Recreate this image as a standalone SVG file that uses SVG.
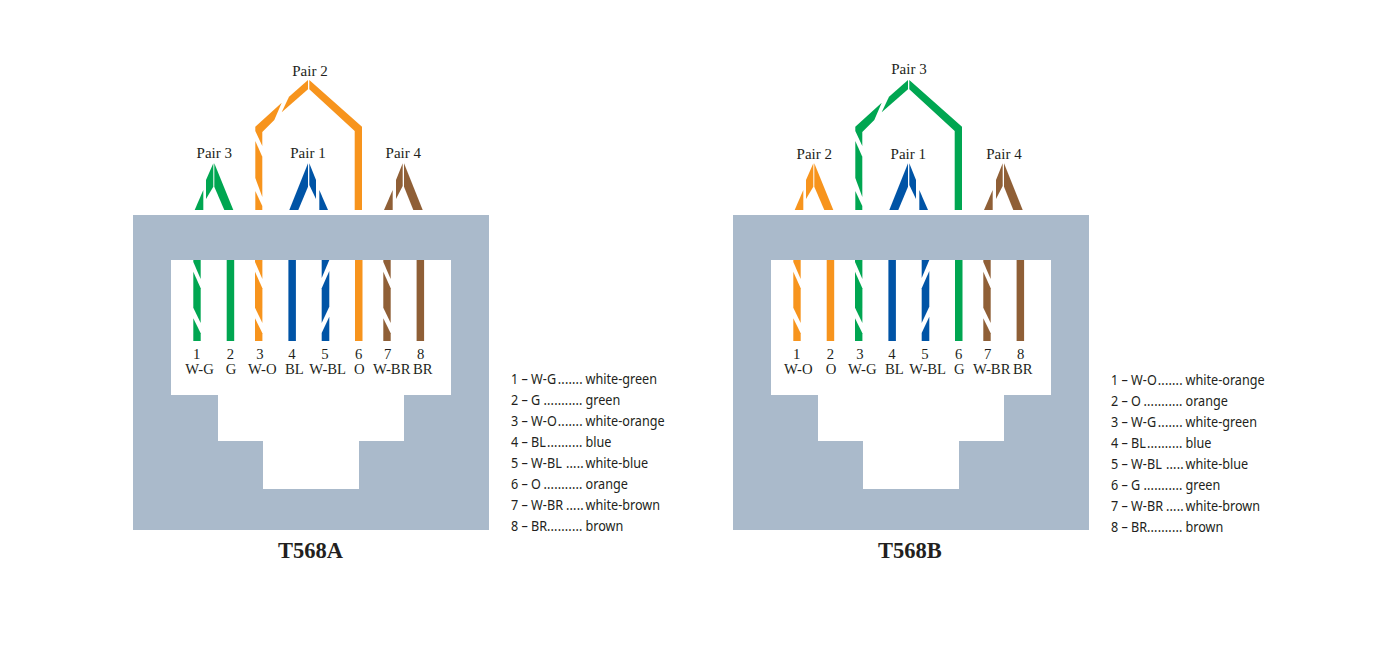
<svg xmlns="http://www.w3.org/2000/svg" width="1394" height="647" viewBox="0 0 1394 647">
<style>
.jack{fill:#aabacb}
.g{fill:#00a651}.o{fill:#f7941d}.b{fill:#0054a6}.n{fill:#8f5f36}
text{font-family:"Liberation Serif","Times New Roman",serif;fill:#231f20;font-size:14.7px;text-anchor:middle}
.pair{font-size:15px}
.title{font-size:22.5px;font-weight:bold}
.leg{font-family:"Noto Sans","Open Sans",sans-serif;font-size:14.2px;text-anchor:start}
.d{letter-spacing:.2px}
</style>
<defs>
<path id="jack" d="M133 215H489V530H133ZM171 260V395H218V441H263V489H359V441H404V395H451V260Z" fill-rule="evenodd"/>
<g id="tw"><polygon points="0,260 7.4,260 7.4,279 0,262"/><polygon points="0,271.7 7.4,288.3 7.4,323 0,307.7"/><polygon points="0,318.3 7.4,333.3 7.4,341 0,341"/></g>
<g id="tw2"><polygon points="0,260 7.6,260 0,278"/><polygon points="7.6,271 7.6,306.7 0,323 0,288.3"/><polygon points="7.6,316.7 7.6,341 0,341 0,333"/></g>
<rect id="so" x="0" y="260" width="7.5" height="81"/>
<g id="left"><polygon points="194.7,210 203.3,210 203.3,190"/><polygon points="206,199 206,180 213.3,163.3 213.3,186.7"/><polygon points="214.3,163.3 233.3,210 224.3,210 214.3,186.7"/></g>
<g id="mid"><polygon points="289.3,210 298.3,210 308,186.7 308,163.3"/><polygon points="309.3,163.3 316,180 316,199 309.3,185"/><polygon points="319.3,190 328,210 319.3,210"/></g>
<g id="right"><polygon points="384,210 392.7,210 392.7,190"/><polygon points="396,199 396,180 402.7,163.3 402.7,186"/><polygon points="404,163.3 422.7,210 413.3,210 404,186.7"/></g>
<g id="arch"><polygon points="309.3,80 362,126.7 362,210 354.7,210 354.7,131 309.3,89.3"/><polygon points="308,80 308,89.3 281.7,112.3 289,96.7"/><polygon points="281.7,102.7 255.3,126.7 255.3,131 262.3,146 262.3,132 274.3,120"/><polygon points="255.3,141 262.3,156.7 262.3,197 255.3,178"/><polygon points="255.3,191 262.3,206 262.3,210 255.3,210"/></g>
</defs>

<g id="t568a">
<use href="#jack" class="jack"/>
<g id="t568a-wires">
<use href="#left" class="g"/><use href="#mid" class="b"/><use href="#right" class="n"/><use href="#arch" class="o"/>
<use href="#tw" x="193.3" class="g"/><use href="#so" x="226.7" class="g"/><use href="#tw" x="255" class="o"/><use href="#so" x="288.4" class="b"/><use href="#tw2" x="321.7" class="b"/><use href="#so" x="355" class="o"/><use href="#tw" x="383.3" class="n"/><use href="#so" x="416.6" class="n"/>
</g>
<g id="t568a-labels">
<text class="pair" x="310" y="76">Pair 2</text><text class="pair" x="214.3" y="158">Pair 3</text><text class="pair" x="308" y="158">Pair 1</text><text class="pair" x="403.3" y="158">Pair 4</text>
<text x="196.7" y="359">1</text><text x="230.3" y="359">2</text><text x="260" y="359">3</text><text x="292" y="359">4</text><text x="325" y="359">5</text><text x="358.7" y="359">6</text><text x="387.7" y="359">7</text><text x="420.7" y="359">8</text>
<text x="199.5" y="374">W-G</text><text x="231" y="374">G</text><text x="262.3" y="374">W-O</text><text x="294.3" y="374">BL</text><text x="327.7" y="374">W-BL</text><text x="359.3" y="374">O</text><text x="391.7" y="374">W-BR</text><text x="422.7" y="374">BR</text>
<text class="title" x="310.5" y="558">T568A</text>
</g>
<g id="t568a-legend" transform="translate(511 0) scale(.89 1)">
<text class="leg" x="0" y="384">1 – W-G<tspan class="d" x="52.6">.......</tspan><tspan x="83.7">white-green</tspan></text>
<text class="leg" x="0" y="405">2 – G <tspan class="d" x="36.5">...........</tspan><tspan x="83.7">green</tspan></text>
<text class="leg" x="0" y="426">3 – W-O<tspan class="d" x="52.6">.......</tspan><tspan x="83.7">white-orange</tspan></text>
<text class="leg" x="0" y="447">4 – BL<tspan class="d" x="40.4">..........</tspan><tspan x="83.7">blue</tspan></text>
<text class="leg" x="0" y="468">5 – W-BL <tspan class="d" x="61.8">.....</tspan><tspan x="83.7">white-blue</tspan></text>
<text class="leg" x="0" y="489">6 – O <tspan class="d" x="36.5">...........</tspan><tspan x="83.7">orange</tspan></text>
<text class="leg" x="0" y="510">7 – W-BR <tspan class="d" x="61.8">.....</tspan><tspan x="83.7">white-brown</tspan></text>
<text class="leg" x="0" y="531">8 – BR<tspan class="d" x="40.4">..........</tspan><tspan x="83.7">brown</tspan></text>
</g>
</g>

<g id="t568b">
<use href="#jack" class="jack" x="600"/>
<g id="t568b-wires">
<use href="#left" x="600" class="o"/><use href="#mid" x="600" class="b"/><use href="#right" x="600" class="n"/><use href="#arch" x="600" class="g"/>
<use href="#tw" x="793.3" class="o"/><use href="#so" x="826.7" class="o"/><use href="#tw" x="855" class="g"/><use href="#so" x="888.4" class="b"/><use href="#tw2" x="921.7" class="b"/><use href="#so" x="955" class="g"/><use href="#tw" x="983.3" class="n"/><use href="#so" x="1016.6" class="n"/>
</g>
<g id="t568b-labels">
<text class="pair" x="909" y="74">Pair 3</text><text class="pair" x="814.3" y="159">Pair 2</text><text class="pair" x="908.3" y="159">Pair 1</text><text class="pair" x="1004" y="159">Pair 4</text>
<text x="796.7" y="359">1</text><text x="830.3" y="359">2</text><text x="860" y="359">3</text><text x="892" y="359">4</text><text x="925" y="359">5</text><text x="958.7" y="359">6</text><text x="987.7" y="359">7</text><text x="1020.7" y="359">8</text>
<text x="798.3" y="374">W-O</text><text x="831" y="374">O</text><text x="862.3" y="374">W-G</text><text x="894.3" y="374">BL</text><text x="927.7" y="374">W-BL</text><text x="959.3" y="374">G</text><text x="991.7" y="374">W-BR</text><text x="1022.7" y="374">BR</text>
<text class="title" x="910" y="558">T568B</text>
</g>
<g id="t568b-legend" transform="translate(1111 0) scale(.89 1)">
<text class="leg" x="0" y="385">1 – W-O<tspan class="d" x="52.6">.......</tspan><tspan x="83.7">white-orange</tspan></text>
<text class="leg" x="0" y="406">2 – O <tspan class="d" x="36.5">...........</tspan><tspan x="83.7">orange</tspan></text>
<text class="leg" x="0" y="427">3 – W-G<tspan class="d" x="52.6">.......</tspan><tspan x="83.7">white-green</tspan></text>
<text class="leg" x="0" y="448">4 – BL<tspan class="d" x="40.4">..........</tspan><tspan x="83.7">blue</tspan></text>
<text class="leg" x="0" y="469">5 – W-BL <tspan class="d" x="61.8">.....</tspan><tspan x="83.7">white-blue</tspan></text>
<text class="leg" x="0" y="490">6 – G <tspan class="d" x="36.5">...........</tspan><tspan x="83.7">green</tspan></text>
<text class="leg" x="0" y="511">7 – W-BR <tspan class="d" x="61.8">.....</tspan><tspan x="83.7">white-brown</tspan></text>
<text class="leg" x="0" y="532">8 – BR<tspan class="d" x="40.4">..........</tspan><tspan x="83.7">brown</tspan></text>
</g>
</g>
</svg>
